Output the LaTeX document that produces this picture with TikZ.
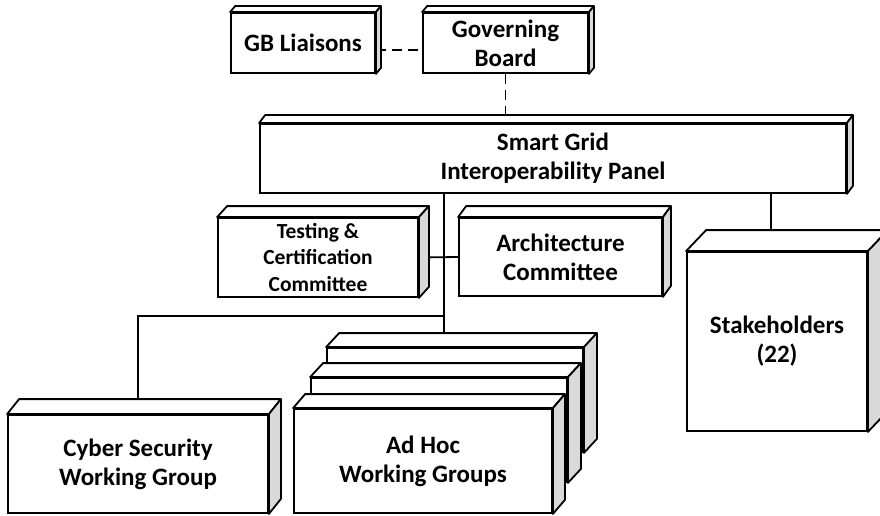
\documentclass[tikz,border=0pt]{standalone}
\usepackage{fontspec}
\setmainfont{Carlito}
\usetikzlibrary{backgrounds}

\tikzstyle{slab} = [draw, fill=white, line width=1.8pt, align=center, inner sep=2pt, font=\bfseries\fontsize{25}{29}\selectfont]
\tikzstyle{face} = [draw, line width=1.8pt, line join=round]
\tikzstyle{link} = [line width=1.8pt]
\tikzstyle{dashlink} = [line width=1.8pt, dash pattern=on 10pt off 6pt]

% top and right side of a box node: name, dx, dy
\newcommand{\boxfaces}[3]{%
  \filldraw[face, fill=white] (#1.north west) -- ++(#2,#3) -- ([shift={(#2,#3)}]#1.north east) -- (#1.north east) -- cycle;
  \filldraw[face, fill=gray!30] (#1.north east) -- ++(#2,#3) -- ([shift={(#2,#3)}]#1.south east) -- (#1.south east) -- cycle;
}

\begin{document}
\begin{tikzpicture}[x=1pt, y=-1pt]
  \useasboundingbox (0,0) rectangle (880,516);

  \node[slab, minimum width=144pt, minimum height=60pt] (liaisons) at (303,43) {GB Liaisons};
  \boxfaces{liaisons}{5}{-6}
  \node[slab, minimum width=165pt, minimum height=60pt] (board) at (505.5,43) {Governing\\Board};
  \boxfaces{board}{5}{-6}

  \node[slab, minimum width=586pt, minimum height=69pt] (sgip) at (553,158.5) {Smart Grid\\Interoperability Panel};
  \boxfaces{sgip}{6}{-8}

  \node[slab, font=\bfseries\fontsize{21.5}{26.5}\selectfont, minimum width=200pt, minimum height=79pt] (testing) at (318,257.5) {Testing \&\\Certification\\Committee};
  \boxfaces{testing}{10}{-11}
  \node[slab, minimum width=203pt, minimum height=78pt] (arch) at (560.5,257) {Architecture\\Committee};
  \boxfaces{arch}{8}{-11}

  \node[slab, minimum width=180pt, minimum height=179pt] (stake) at (777,341.5) {Stakeholders\\(22)};
  \boxfaces{stake}{20}{-21}

  \node[slab, minimum width=260pt, minimum height=98pt] (cyber) at (138,464) {Cyber Security\\Working Group};
  \boxfaces{cyber}{12}{-15}

  % stack of ad hoc groups, back to front
  \node[slab, minimum width=256pt, minimum height=104pt] (adhoc3) at (455,400) {};
  \boxfaces{adhoc3}{13}{-14}
  \node[slab, minimum width=256pt, minimum height=104pt] (adhoc2) at (439,430) {};
  \boxfaces{adhoc2}{13}{-14}
  \node[slab, minimum width=258pt, minimum height=104pt] (adhoc1) at (423,461) {Ad Hoc\\Working Groups};
  \boxfaces{adhoc1}{12}{-14}

  \begin{scope}[on background layer]
    \fill[white] (0,0) rectangle (880,516);
    \coordinate (trunk) at (444,316);
    \draw[dashlink] ([yshift=-7pt]liaisons.east) -- ([yshift=-7pt]board.west);
    \draw[dashlink] (board.south) -- (board.south |- sgip.north);
    \draw[link] (trunk |- sgip.south) -- (trunk |- adhoc3.north);
    \draw[link] (testing.east) -- (arch.west);
    \draw[link] (trunk) -| (cyber.north);
    \draw[link] ([xshift=-6pt]stake.north |- sgip.south) -- ([xshift=-6pt]stake.north);
  \end{scope}
\end{tikzpicture}
\end{document}
